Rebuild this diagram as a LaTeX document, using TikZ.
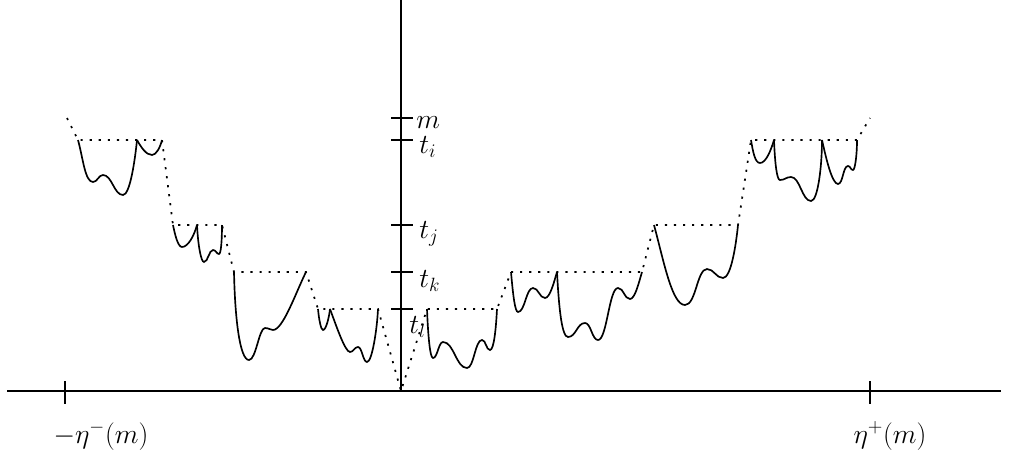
\documentclass[tikz,border=0pt]{standalone}
\begin{document}
\begin{tikzpicture}[x=0.75pt,y=0.75pt,yscale=-1,
  axis/.style={line width=1.3pt},
  well/.style={line width=1.25pt},
  envelope/.style={line width=1.3pt,dash pattern=on 1.6pt off 5.2pt},
  lab/.style={font=\fontsize{22.5}{26}\selectfont,inner sep=0pt}]
\useasboundingbox (0,0) rectangle (1009,457);
% axes
\coordinate (xl) at (7,391); \coordinate (xr) at (1001,391);
\coordinate (yt) at (401,0); \coordinate (o) at (401,391);
\draw[axis] (xl) -- (xr);
\draw[axis] (yt) -- (o);
% horizontal ticks
\draw[axis] (65,381) -- (65,404);
\draw[axis] (870,381) -- (870,404);
\node[lab,anchor=base] (etam) at (101,443) {$-\eta^-(m)$};
\node[lab,anchor=base] (etap) at (890,443) {$\eta^+(m)$};
% vertical ticks
\foreach \yy in {118,140,225,272,309} \draw[axis] (391,\yy) -- (413,\yy);
\node[lab,anchor=base west] (lm) at (416,128) {$m$};
\node[lab,anchor=base west] (li) at (419,153) {$t_i$};
\node[lab,anchor=base west] (lj) at (419,238) {$t_j$};
\node[lab,anchor=base west] (lk) at (419,287) {$t_k$};
\node[lab,anchor=base west] (ll) at (409,333) {$t_l$};
% envelope
\draw[envelope] (67,118) -- (78,140) -- (162,140) -- (173,225) -- (222,225) -- (234,272)
  -- (306,272) -- (318,309) -- (378,309) -- (o) -- (427,309) -- (497,309) -- (511,272)
  -- (642,272) -- (654,225) -- (738,225) -- (751,140) -- (857,140) -- (870,118);
% left wells
\draw[well] (78,140) .. controls (83,158) and (85,182) .. (93,182)
  .. controls (97.5,182) and (98.5,175) .. (103,175)
  .. controls (112,175) and (114,195) .. (123,195)
  .. controls (130,195) and (135,160) .. (137,140);
\draw[well] (137,140) .. controls (141,147) and (146,155) .. (152,155)
  .. controls (156,155) and (160,148) .. (162,140);
\draw[well] (173,225) .. controls (175,235) and (178,247) .. (182,247)
  .. controls (188,247) and (194,236) .. (197,225);
\draw[well] (197,225) .. controls (198,245) and (201,262) .. (204,262)
  .. controls (208,262) and (209,250) .. (213,250)
  .. controls (216,250) and (216.5,254) .. (219,254)
  .. controls (221,254) and (222,240) .. (222,225);
\draw[well] (234,272) .. controls (235,320) and (240,360) .. (249,360)
  .. controls (256,360) and (259,328) .. (265,328)
  .. controls (269,328) and (270,330) .. (273,330)
  .. controls (283,330) and (296,292) .. (306,272);
\draw[well] (318,309) .. controls (319,320) and (321,330) .. (323,330)
  .. controls (326,330) and (329,318) .. (330,309);
\draw[well] (330,309) .. controls (336,325) and (345,352) .. (350,352)
  .. controls (353.5,352) and (354.5,347) .. (358,347)
  .. controls (362,347) and (363,362) .. (367,362)
  .. controls (372,362) and (377,330) .. (378,309);
% right wells
\draw[well] (427,309) .. controls (428,335) and (430,358) .. (433,358)
  .. controls (437.5,358) and (438.5,342) .. (443,342)
  .. controls (454,342) and (456,368) .. (467,368)
  .. controls (474,368) and (475,340) .. (482,340)
  .. controls (486,340) and (486,350) .. (490,350)
  .. controls (494,350) and (496,328) .. (497,309);
\draw[well] (511,272) .. controls (513,295) and (515,312) .. (518,312)
  .. controls (525,312) and (526,288) .. (533,288)
  .. controls (538.5,288) and (539.5,298) .. (545,298)
  .. controls (550,298) and (554,282) .. (557,272);
\draw[well] (557,272) .. controls (559,310) and (562,337) .. (568,337)
  .. controls (576,337) and (577,323) .. (585,323)
  .. controls (591,323) and (592,340) .. (598,340)
  .. controls (607,340) and (609,288) .. (618,288)
  .. controls (624,288) and (624,299) .. (630,299)
  .. controls (635,299) and (639,282) .. (642,272);
\draw[well] (654,225) .. controls (664,262) and (672,305) .. (685,305)
  .. controls (696,305) and (697,269) .. (707,269)
  .. controls (714,269) and (716,278) .. (723,278)
  .. controls (731,278) and (736,245) .. (738,225);
\draw[well] (751,140) .. controls (753,152) and (755,163) .. (760,163)
  .. controls (766,163) and (771,150) .. (774,140);
\draw[well] (774,140) .. controls (775,165) and (777,180) .. (780,180)
  .. controls (785,180) and (786,177) .. (791,177)
  .. controls (800,177) and (802,201) .. (811,201)
  .. controls (818,201) and (822,165) .. (822,140);
\draw[well] (822,140) .. controls (826,158) and (832,184) .. (838,184)
  .. controls (843,184) and (843,166) .. (848,166)
  .. controls (850.5,166) and (850.5,170) .. (853,170)
  .. controls (855,170) and (857,155) .. (857,140);
\end{tikzpicture}
\end{document}
